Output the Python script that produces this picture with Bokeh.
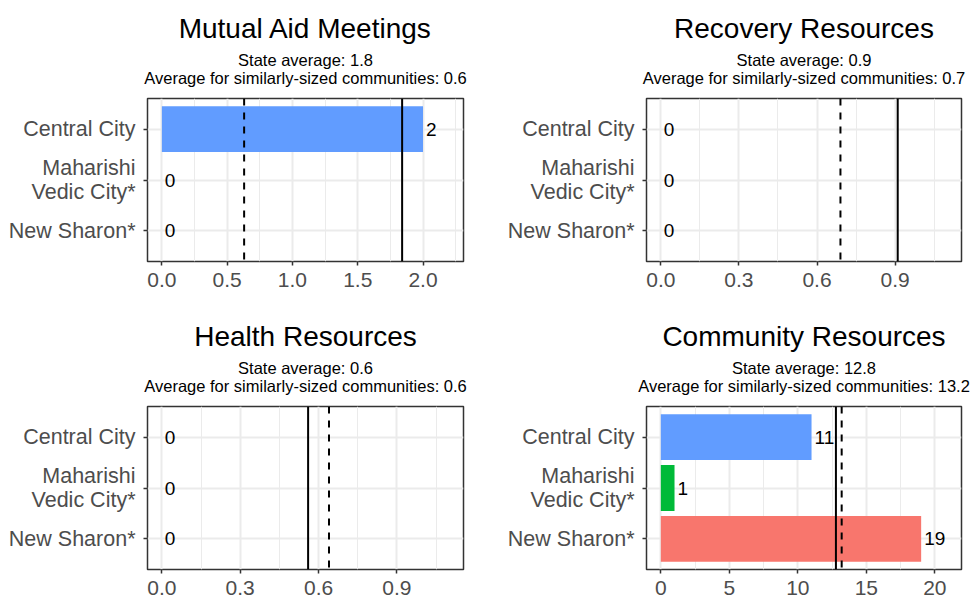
from bokeh.plotting import figure
from bokeh.layouts import gridplot
from bokeh.models import (FactorRange, Range1d, Span, Title, FixedTicker,
                          PrintfTickFormatter, ColumnDataSource)
from bokeh.core.properties import value
from bokeh.embed import file_html
from bokeh.resources import INLINE

# ---------------- data ----------------
communities = ["Central City", "Maharishi\nVedic City*", "New Sharon*"]
bar_colors = ["#619CFF", "#00BA38", "#F8766D"]

titles = ["Mutual Aid Meetings", "Recovery Resources",
          "Health Resources", "Community Resources"]
mutual_aid = [2, 0, 0]
recovery = [0, 0, 0]
health = [0, 0, 0]
community = [11, 1, 19]
state_avg = [1.84, 0.91, 0.56, 12.78]
similar_avg = [0.63, 0.69, 0.64, 13.2]
axis_limits = [2.2, 1.1, 1.1, 20.9]
major_ticks = [[0, 0.5, 1.0, 1.5, 2.0], [0, 0.3, 0.6, 0.9],
               [0, 0.3, 0.6, 0.9], [0, 5, 10, 15, 20]]
minor_ticks = [[0.25, 0.75, 1.25, 1.75, 2.25], [0.15, 0.45, 0.75, 1.05],
               [0.15, 0.45, 0.75, 1.05], [2.5, 7.5, 12.5, 17.5]]
tick_formats = ["%.1f", "%.1f", "%.1f", "%d"]

FONT = "Liberation Sans"
series = [mutual_aid, recovery, health, community]

# layout (col -> (left border, frame width, right border)); row -> (top, frame, bottom)
cols = [(147, 316, 22), (161, 315, 9)]
rows = [(98, 163, 39), (106, 163, 32)]


def add_title(p, text, size, standoff):
    p.add_layout(Title(text=text, align="center", standoff=standoff,
                       text_font=FONT, text_font_size=size,
                       text_font_style="normal", text_color="black"), "above")


def make_panel(i):
    col, row = i % 2, i // 2
    lb, fw, rb = cols[col]
    tb, fh, bb = rows[row]
    lim = axis_limits[i]
    pad = 0.05 * lim
    p = figure(y_range=FactorRange(factors=communities[::-1], range_padding=0.1,
                                   range_padding_units="absolute"),
               x_range=Range1d(-pad, lim + pad),
               frame_width=fw, frame_height=fh,
               min_border_left=lb, min_border_right=rb,
               min_border_top=tb, min_border_bottom=bb,
               output_backend="svg", toolbar_location=None,
               background_fill_color="white", border_fill_color="white")
    src = ColumnDataSource(dict(y=communities, x=series[i], c=bar_colors,
                                t=[str(v) for v in series[i]]))
    p.hbar(y="y", right="x", left=0, height=0.9, fill_color="c",
           line_color=None, source=src)
    p.text(x="x", y="y", text="t", source=src, x_offset=3,
           text_align="left", text_baseline="middle",
           text_font=value(FONT), text_font_size="19px", text_color="black")

    p.add_layout(Span(location=similar_avg[i], dimension="height",
                      line_color="black", line_width=2, line_dash="7 7"))
    p.add_layout(Span(location=state_avg[i], dimension="height",
                      line_color="black", line_width=2))

    # axes
    p.xaxis.ticker = FixedTicker(ticks=major_ticks[i], minor_ticks=minor_ticks[i])
    p.xaxis.formatter = PrintfTickFormatter(format=tick_formats[i])
    for ax in (p.xaxis[0], p.yaxis[0]):
        ax.axis_line_color = None
        ax.major_tick_line_color = "#333333"
        ax.major_tick_line_width = 1.5
        ax.major_tick_out = 4
        ax.major_tick_in = 0
        ax.minor_tick_line_color = None
        ax.major_label_text_font = FONT
        ax.major_label_text_color = "#4D4D4D"
    p.xaxis.major_label_text_font_size = "21px"
    p.yaxis.major_label_text_font_size = "21.5px"
    p.yaxis.major_label_text_line_height = 1.0
    p.xaxis.major_label_standoff = 7
    p.yaxis.major_label_standoff = 8

    p.xgrid.grid_line_color = "#EBEBEB"
    p.xgrid.grid_line_width = 2
    p.xgrid.minor_grid_line_color = "#EBEBEB"
    p.xgrid.minor_grid_line_width = 1
    p.ygrid.grid_line_color = "#EBEBEB"
    p.ygrid.grid_line_width = 2
    p.outline_line_color = "#333333"
    p.outline_line_width = 1.5

    # titles stacked outward from the frame: spacer, subtitle lines, title
    add_title(p, " ", "9px", 0)
    add_title(p, f"Average for similarly-sized communities: {similar_avg[i]:.1f}", "16.5px", 0)
    add_title(p, f"State average: {state_avg[i]:.1f}", "16.5px", -4)
    add_title(p, titles[i], "28px", 13)
    return p


panels = [make_panel(i) for i in range(4)]
grid = gridplot([[panels[0], panels[1]], [panels[2], panels[3]]],
                toolbar_location=None)

open("out.html", "w").write(file_html(grid, INLINE))
